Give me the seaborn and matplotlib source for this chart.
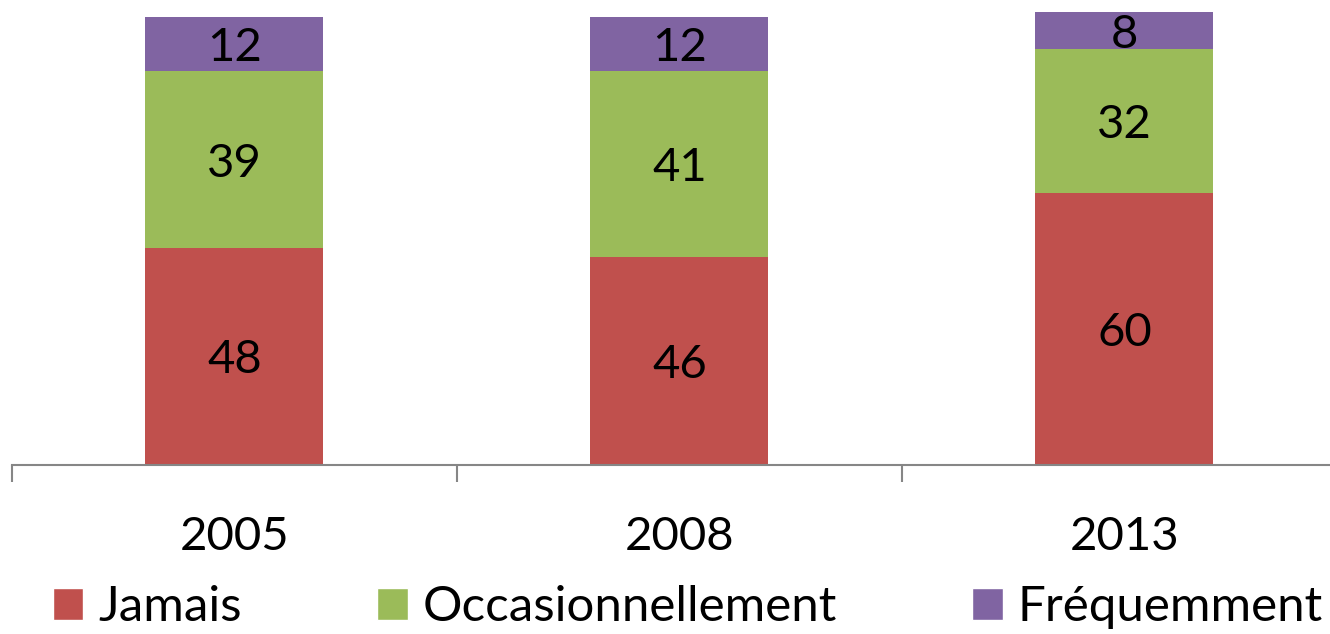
import numpy as np
import pandas as pd
import matplotlib
matplotlib.use('Agg')
import matplotlib.pyplot as plt
import seaborn as sns
from matplotlib.patches import Patch

# values
years = ['2005', '2008', '2013']
jamais = [48, 46, 60]
occasionnellement = [39, 41, 32]
frequemment = [12, 12, 8]
series_names = ['Jamais', 'Occasionnellement', 'Fréquemment']

sns.set_style('white')
plt.rcParams['font.family'] = ['Lato', 'DejaVu Sans']
plt.rcParams['text.color'] = 'black'
plt.rcParams['xtick.color'] = 'black'

df = pd.DataFrame({'annee': years, 'Jamais': jamais,
                   'Occasionnellement': occasionnellement,
                   'Fréquemment': frequemment})
df['c1'] = df['Jamais']
df['c2'] = df['c1'] + df['Occasionnellement']
df['c3'] = df['c2'] + df['Fréquemment']

my_pal = {'Jamais': '#C0504D', 'Occasionnellement': '#9BBB59', 'Fréquemment': '#8064A2'}

fig = plt.figure(figsize=(13.3, 6.34), dpi=100)
# axis baseline at y=465px, slightly wider than the figure like the original
ax = fig.add_axes([12 / 1330, 169 / 634, 1335 / 1330, 465 / 634])

# stacked bars: draw cumulative totals from tallest to shortest
sns.barplot(data=df, x='annee', y='c3', color=my_pal['Fréquemment'], width=0.4,
            saturation=1, linewidth=0, ax=ax)
sns.barplot(data=df, x='annee', y='c2', color=my_pal['Occasionnellement'], width=0.4,
            saturation=1, linewidth=0, ax=ax)
sns.barplot(data=df, x='annee', y='c1', color=my_pal['Jamais'], width=0.4,
            saturation=1, linewidth=0, ax=ax)

# labels in the middle of each segment
for i, row in df.iterrows():
    mids = [row['c1'] / 2, (row['c1'] + row['c2']) / 2, (row['c2'] + row['c3']) / 2]
    vals = [row['Jamais'], row['Occasionnellement'], row['Fréquemment']]
    for m, v in zip(mids, vals):
        ax.annotate(str(v), (i, m), xytext=(0, -4), textcoords='offset pixels',
                    ha='center', va='center', fontsize=34, color='black')

ax.set_xlim(-0.5, 2.5)
ax.set_ylim(0, 465 / 4.525)
ax.set_xlabel('')
ax.set_ylabel('')
ax.set_yticks([])
for s in ['top', 'right', 'left']:
    ax.spines[s].set_visible(False)
ax.spines['bottom'].set_color('#868686')
ax.spines['bottom'].set_linewidth(1.5)
ax.set_xticks([-0.5, 0.5, 1.5, 2.5], minor=True)
ax.tick_params(axis='x', which='minor', bottom=True, length=12, width=1.5,
               color='#868686', direction='out')
ax.tick_params(axis='x', which='major', bottom=False, length=0, labelsize=34, pad=37)

handles = [Patch(facecolor=my_pal[n], label=n) for n in series_names]
fig.legend(handles=handles, loc='lower left', bbox_to_anchor=(0.036, 0.0), ncol=3,
           frameon=False, fontsize=35.5, handlelength=0.62, handleheight=0.62,
           handletextpad=0.3, columnspacing=2.75, borderaxespad=0, borderpad=0.1)

fig.savefig('out.png', dpi=100)
